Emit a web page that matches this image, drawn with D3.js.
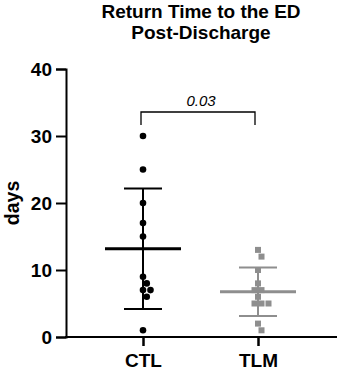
<!DOCTYPE html>
<html><head><meta charset="utf-8">
<script src="https://cdn.jsdelivr.net/npm/d3@7"></script>
<style>body{margin:0;background:#fff}svg{display:block}text{font-family:"Liberation Sans",Arial,sans-serif}</style>
</head><body><svg id="c" width="338" height="372"></svg>
<script>
const categories = ["CTL", "TLM"];
const ctlValues = [30, 25, 20, 17, 15, 9, 8, 7, 7, 6, 1];
const tlmValues = [13, 12, 10, 8, 7, 7, 6, 5, 5, 5, 2, 1];
const yTicks = [0, 10, 20, 30, 40];
const pLabel = "0.03";
const titleLines = ["Return Time to the ED", "Post-Discharge"];
const yLabel = "days";

const svg = d3.select("#c");
const y = d3.scaleLinear().domain([0, 40]).range([337, 69]);
const x = d3.scalePoint().domain(categories).range([143, 258]);
const axisRight = 337;

// title
svg.selectAll("text.title").data(titleLines).enter().append("text")
  .attr("x", 201).attr("y", (d, i) => 17.5 + i * 21)
  .attr("text-anchor", "middle").attr("font-weight", "bold").attr("font-size", 19).text(d => d);

// y axis
const ya = svg.append("g").attr("transform", "translate(66,0)")
  .call(d3.axisLeft(y).tickValues(yTicks).tickSize(10).tickPadding(4));
ya.select(".domain").attr("stroke", "#000").attr("stroke-width", 2);
ya.selectAll(".tick line").attr("stroke", "#000").attr("stroke-width", 2);
ya.selectAll(".tick text").attr("font-size", 19).attr("font-weight", "bold").attr("fill", "#000")
  .style("font-family", '"Liberation Sans",Arial,sans-serif');

// x axis
svg.append("line").attr("x1", 65).attr("x2", axisRight).attr("y1", y(0)).attr("y2", y(0))
  .attr("stroke", "#000").attr("stroke-width", 2);
const xa = svg.append("g").attr("transform", `translate(0,${y(0)})`)
  .call(d3.axisBottom(x).tickSize(9).tickPadding(7.5));
xa.select(".domain").remove();
xa.selectAll(".tick line").attr("stroke", "#000").attr("stroke-width", 2.5);
xa.selectAll(".tick text").attr("font-size", 19).attr("font-weight", "bold").attr("fill", "#000")
  .style("font-family", '"Liberation Sans",Arial,sans-serif');

// y label
svg.append("text").attr("transform", `translate(18.5,${y(20)}) rotate(-90)`)
  .attr("text-anchor", "middle").attr("font-size", 19.5).attr("font-weight", "bold").text(yLabel);

function swarm(vals, cx, d) {
  const placed = [];
  const sorted = vals.map((v, i) => ({ v, i })).sort((a, b) => b.v - a.v);
  sorted.forEach(p => {
    const py = y(p.v);
    const cands = [0];
    for (let k = 1; k < 20; k++) { cands.push(k * d / 2); cands.push(-k * d / 2); }
    for (const off of cands) {
      const px = cx + off;
      if (placed.every(q => Math.hypot(q.x - px, q.y - py) >= d)) { placed.push({ x: px, y: py, v: p.v }); break; }
    }
  });
  return placed;
}

function group(vals, cat, color, shape) {
  const cx = x(cat);
  const mean = d3.mean(vals), sd = d3.deviation(vals);
  const g = svg.append("g");
  g.append("line").attr("x1", cx).attr("x2", cx).attr("y1", y(mean + sd)).attr("y2", y(mean - sd))
    .attr("stroke", color).attr("stroke-width", 2);
  [mean + sd, mean - sd].forEach(v => g.append("line").attr("x1", cx - 19).attr("x2", cx + 19)
    .attr("y1", y(v)).attr("y2", y(v)).attr("stroke", color).attr("stroke-width", 2));
  const pts = swarm(vals, cx, shape === "circle" ? 7.5 : 7);
  if (shape === "circle") {
    g.selectAll("circle").data(pts).enter().append("circle")
      .attr("cx", d => d.x).attr("cy", d => d.y).attr("r", 3.3).attr("fill", color);
  } else {
    g.selectAll("rect").data(pts).enter().append("rect")
      .attr("x", d => d.x - 3).attr("y", d => d.y - 3).attr("width", 6).attr("height", 6).attr("fill", color);
  }
  g.append("line").attr("x1", cx - 38).attr("x2", cx + 38).attr("y1", y(mean)).attr("y2", y(mean))
    .attr("stroke", color).attr("stroke-width", 3);
}
group(ctlValues, "CTL", "#000", "circle");
group(tlmValues, "TLM", "#8e8e8e", "square");

// significance bracket
const bx1 = x("CTL") - 2, bx2 = x("TLM") - 3, by = 112, bb = 125;
svg.append("path").attr("d", `M${bx1},${bb}V${by}H${bx2}V${bb}`).attr("fill", "none")
  .attr("stroke", "#000").attr("stroke-width", 1.3);
svg.append("text").attr("x", (bx1 + bx2) / 2 + 3).attr("y", 106).attr("text-anchor", "middle")
  .attr("font-size", 15).attr("font-style", "italic").text(pLabel);
</script></body></html>
